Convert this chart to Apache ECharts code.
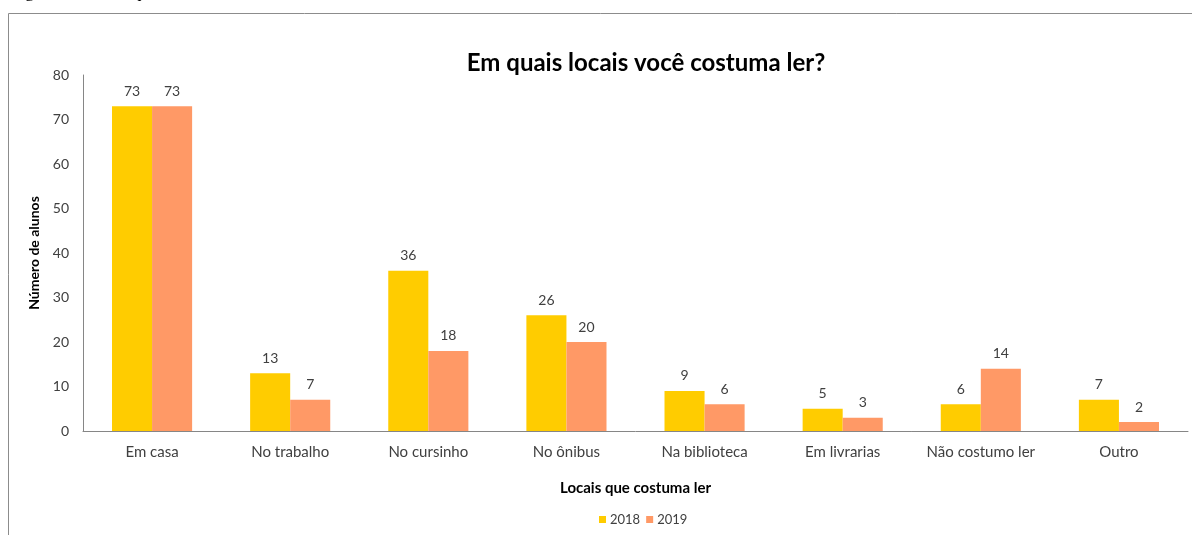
<!DOCTYPE html>
<html><head><meta charset="utf-8">
<script src="https://cdn.jsdelivr.net/npm/echarts@6/dist/echarts.min.js"></script>
<style>html,body{margin:0;padding:0;background:#fff}#c{width:1192px;height:535px}</style>
</head><body><div id="c"></div>
<script>
const categories = ['Em casa','No trabalho','No cursinho','No ônibus','Na biblioteca','Em livrarias','Não costumo ler','Outro'];
const values2018 = [73,13,36,26,9,5,6,7];
const values2019 = [73,7,18,20,6,3,14,2];
const seriesNames = ['2018','2019'];
const yTicks = {min:0, max:80, interval:10};
const FONT = 'Lato';
const chart = echarts.init(document.getElementById('c'), null, {renderer:'canvas'});
const lbl = {show:true, position:'top', distance:8, color:'#404040', fontFamily:FONT, fontSize:14};
chart.setOption({
  animation:false,
  title:{text:'Em quais locais você costuma ler?', left:641, textAlign:'center', top:46,
    textStyle:{fontFamily:FONT, fontWeight:'bold', fontSize:24, color:'#000'}},
  legend:{data:seriesNames, bottom:4, left:594, itemWidth:7, itemHeight:7, itemGap:6, icon:'rect',
    textStyle:{fontFamily:FONT, fontSize:13, color:'#404040', padding:[0,0,0,-1]}},
  grid:{left:83, right:4, top:75, bottom:104, containLabel:false},
  xAxis:{type:'category', data:categories,
    name:'Locais que costuma ler', nameLocation:'middle', nameGap:50,
    nameTextStyle:{fontFamily:FONT, fontWeight:'bold', fontSize:15, color:'#000'},
    axisLine:{lineStyle:{color:'#868686', width:1}}, axisTick:{show:false},
    axisLabel:{fontFamily:FONT, fontSize:15, color:'#404040', margin:14, interval:0}},
  yAxis:{type:'value', min:yTicks.min, max:yTicks.max, interval:yTicks.interval,
    name:'Número de alunos', nameLocation:'middle', nameGap:40,
    nameTextStyle:{fontFamily:FONT, fontWeight:'bold', fontSize:14, color:'#000'},
    axisLine:{show:true, lineStyle:{color:'#868686', width:1}}, axisTick:{show:false},
    splitLine:{show:false},
    axisLabel:{fontFamily:FONT, fontSize:14, color:'#404040', margin:14}},
  series:[
    {name:seriesNames[0], type:'bar', data:values2018, barGap:'0%', barCategoryGap:'42%',
      itemStyle:{color:'#FFCC00'}, label:lbl},
    {name:seriesNames[1], type:'bar', data:values2019, barGap:'0%', barCategoryGap:'42%',
      itemStyle:{color:'#FF9966'}, label:lbl}
  ],
  graphic:[
    {type:'rect', shape:{x:8.5, y:13.5, width:1200, height:600}, style:{fill:'none', stroke:'#8c8c8c', lineWidth:1}, silent:true, z:-1},
    {type:'text', x:10, y:1, style:{text:'Figura 6: Locais que costuma ler', font:'18px "Liberation Serif"', fill:'#000', verticalAlign:'bottom'}}
  ]
});
</script></body></html>
